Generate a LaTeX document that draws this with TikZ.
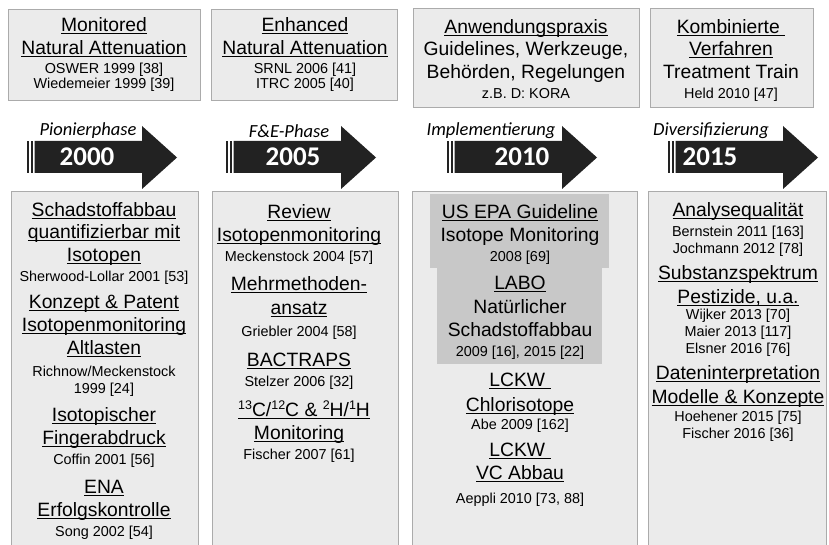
\documentclass[tikz,border=0pt]{standalone}
\usepackage{fontspec}
\setmainfont{Liberation Sans}
\newfontfamily\arrfont{Carlito}
\definecolor{boxfill}{HTML}{EBEBEB}
\definecolor{boxline}{HTML}{ABABAB}
\definecolor{innerfill}{HTML}{C8C8C8}
\definecolor{arrowfill}{HTML}{222222}
\newcommand\ulin[1]{\setbox0=\hbox{#1}\rlap{\rule[-2.6pt]{\wd0}{1pt}}\box0}
\newcommand\sups[1]{\raisebox{0.36em}{\fontsize{12.5}{12.5}\selectfont #1}}
\newcommand\TL[4]{\node[ttl] (#1) at (#2,#3) {\ulin{#4}};}
\newcommand\TN[4]{\node[ttl] (#1) at (#2,#3) {#4};}
\newcommand\TS[4]{\node[sml] (#1) at (#2,#3) {#4};}
\newcommand\phasearrow[1]{%
  \fill[arrowfill] (#1,141) rectangle ++(2,32);
  \fill[arrowfill] (#1+3.5,141) rectangle ++(2,32);
  \fill[arrowfill] (#1+7.5,141) -- (#1+115,141) -- (#1+115,126) -- (#1+150,157.5)
     -- (#1+115,189) -- (#1+115,173) -- (#1+7.5,173) -- cycle;}
\tikzset{
  ttl/.style={inner sep=0pt, anchor=center, text height=0.72em, text depth=0pt, yshift=-3pt,
              font=\fontsize{19.3}{23}\selectfont},
  sml/.style={inner sep=0pt, anchor=center, text height=0.72em, text depth=0pt, yshift=-2.5pt,
              font=\fontsize{14.4}{17}\selectfont},
  panel/.style={draw=boxline, fill=boxfill, line width=0.8pt},
  inner/.style={fill=innerfill},
  phase/.style={inner sep=0pt, anchor=center, font=\arrfont\itshape\fontsize{18.5}{22}\selectfont},
  year/.style={inner sep=0pt, anchor=center, text=white, font=\arrfont\bfseries\fontsize{27}{30}\selectfont},
}
\begin{document}
\begin{tikzpicture}[x=1pt,y=-1pt]
\useasboundingbox (0,0) rectangle (829,545);
% top panels
\path[panel] (8,9) rectangle (200,100);
\path[panel] (211,9) rectangle (397,100);
\path[panel] (413,8) rectangle (639,107);
\path[panel] (650,8) rectangle (813,107);
% bottom panels
\path[panel] (11,191) rectangle (198,550);
\path[panel] (212,191) rectangle (398,550);
\path[panel] (412,191) rectangle (637,550);
\path[panel] (648,191) rectangle (826,550);
\path[inner] (430,194) rectangle (609,268);
\path[inner] (437,268) rectangle (602,364);
% arrows
\phasearrow{27}
\phasearrow{226}
\phasearrow{447}
\phasearrow{668}
\node[phase] (p1) at (88,131) {Pionierphase};
\node[phase] (p2) at (289,131) {F\&E-Phase};
\node[phase] (p3) at (491,131) {Implementierung};
\node[phase] (p4) at (711,131) {Diversifizierung};
\node[year] (y1) at (87,157) {2000};
\node[year] (y2) at (293,157) {2005};
\node[year] (y3) at (522,157) {2010};
\node[year] (y4) at (710,157) {2015};
% top box 1
\TL{a1}{104}{25}{Monitored}
\TL{a2}{104}{48}{Natural Attenuation}
\TS{a3}{104}{67}{OSWER 1999 [38]}
\TS{a4}{104}{82}{Wiedemeier 1999 [39]}
% top box 2
\TL{b1}{305}{25}{Enhanced}
\TL{b2}{305}{48}{Natural Attenuation}
\TS{b3}{305}{67}{SRNL 2006 [41]}
\TS{b4}{305}{82}{ITRC 2005 [40]}
% top box 3
\TL{c1}{526}{27}{Anwendungspraxis}
\TN{c2}{526}{49}{Guidelines, Werkzeuge,}
\TN{c3}{526}{72}{Behörden, Regelungen}
\TS{c4}{526}{92}{z.B. D: KORA}
% top box 4
\TL{d1}{731}{27}{Kombinierte\ }
\TL{d2}{731}{49}{Verfahren}
\TN{d3}{731}{72}{Treatment Train}
\TS{d4}{731}{92}{Held 2010 [47]}
% bottom box 1
\TL{e1}{104}{210}{Schadstoffabbau}
\TL{e2}{104}{232}{quantifizierbar mit}
\TL{e3}{104}{255}{Isotopen}
\TS{e4}{104}{275}{Sherwood-Lollar 2001 [53]}
\TL{e5}{104}{302}{Konzept \& Patent}
\TL{e6}{104}{325}{Isotopenmonitoring}
\TL{e7}{104}{348}{Altlasten}
\TS{e8}{104}{370}{Richnow/Meckenstock}
\TS{e9}{104}{387}{1999 [24]}
\TL{e10}{104}{415}{Isotopischer}
\TL{e11}{104}{438}{Fingerabdruck}
\TS{e12}{104}{458}{Coffin 2001 [56]}
\TL{e13}{104}{487}{ENA}
\TL{e14}{104}{510}{Erfolgskontrolle}
\TS{e15}{104}{530}{Song 2002 [54]}
% bottom box 2
\TL{f1}{299}{212}{Review}
\TL{f2}{299}{235}{Isotopenmonitoring}
\TS{f3}{299}{255}{Meckenstock 2004 [57]}
\TL{f4}{299}{284}{Mehrmethoden-}
\TL{f5}{299}{308}{ansatz}
\TS{f6}{299}{330}{Griebler 2004 [58]}
\TL{f7}{299}{360}{BACTRAPS}
\TS{f8}{299}{380}{Stelzer 2006 [32]}
\TL{f9}{304}{410}{\sups{13}C/\sups{12}C \& \sups{2}H/\sups{1}H}
\TL{f10}{299}{433}{Monitoring}
\TS{f11}{299}{453}{Fischer 2007 [61]}
% bottom box 3
\TL{g1}{520}{212}{US EPA Guideline}
\TN{g2}{520}{235}{Isotope Monitoring}
\TS{g3}{520}{255}{2008 [69]}
\TL{g4}{520}{283}{LABO}
\TN{g5}{520}{307}{Natürlicher}
\TN{g6}{520}{330}{Schadstoffabbau}
\TS{g7}{520}{350}{2009 [16], 2015 [22]}
\TL{g8}{520}{380}{LCKW\ }
\TL{g9}{520}{405}{Chlorisotope}
\TS{g10}{520}{423}{Abe 2009 [162]}
\TL{g11}{520}{450}{LCKW\ }
\TL{g12}{520}{473}{VC Abbau}
\TS{g13}{520}{497}{Aeppli 2010 [73, 88]}
% bottom box 4
\TL{h1}{738}{210}{Analysequalität}
\TS{h2}{738}{230}{Bernstein 2011 [163]}
\TS{h3}{738}{247}{Jochmann 2012 [78]}
\TL{h4}{738}{273}{Substanzspektrum}
\TL{h5}{738}{297}{Pestizide, u.a.}
\TS{h6}{738}{313}{Wijker 2013 [70]}
\TS{h7}{738}{330}{Maier 2013 [117]}
\TS{h8}{738}{347}{Elsner 2016 [76]}
\TL{h9}{738}{373}{Dateninterpretation}
\TL{h10}{738}{397}{Modelle \& Konzepte}
\TS{h11}{738}{415}{Hoehener 2015 [75]}
\TS{h12}{738}{432}{Fischer 2016 [36]}
\end{tikzpicture}
\end{document}
